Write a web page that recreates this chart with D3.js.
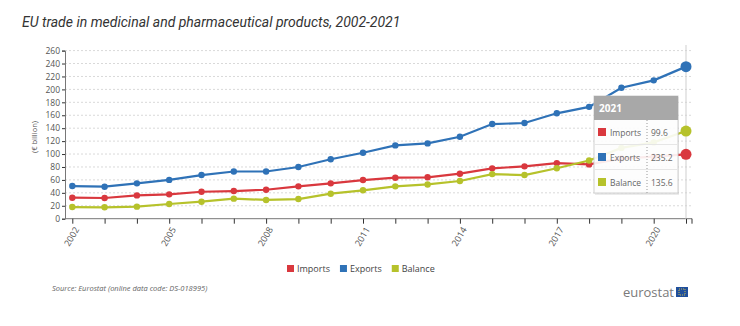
<!DOCTYPE html>
<meta charset="utf-8">
<script src="https://d3js.org/d3.v7.min.js"></script>
<style>
  body { margin: 0; background: #fff; }
  text { font-family: "Open Sans", "Liberation Sans", sans-serif; }
</style>
<div id="chart"></div>
<script>

// data (EUR billion)
var years = [2002, 2003, 2004, 2005, 2006, 2007, 2008, 2009, 2010, 2011,
             2012, 2013, 2014, 2015, 2016, 2017, 2018, 2019, 2020, 2021];
var imports = [32.5, 32, 36, 37.7, 41.7, 42.8, 44.8, 50, 54.7, 59.8,
               63.4, 64, 69.6, 77.9, 81, 86, 84, 93, 96, 99.6];
var exports = [50.5, 49.5, 54.7, 60, 67.5, 73, 73, 80, 92, 102,
               113.4, 116.5, 126.8, 146.4, 148, 163, 173, 202.5, 214, 235.2];
var balance = [18, 17.6, 18.6, 22.7, 26.3, 31, 29, 30.4, 38.7, 43.9,
               50, 53, 58.3, 69, 67.5, 78, 90, 109.5, 118, 135.6];
var yTicks = [0, 20, 40, 60, 80, 100, 120, 140, 160, 180, 200, 220, 240, 260];
var xLabelYears = [2002, 2005, 2008, 2011, 2014, 2017, 2020];

var seriesNames = ["Imports", "Exports", "Balance"];
var seriesColors = ["#d9383e", "#2f72b7", "#b6c22b"];
var seriesValues = [imports, exports, balance];

var W = 740, H = 326;
var svg = d3.select("#chart").append("svg")
  .attr("width", W)
  .attr("height", H);

// scales
var x = d3.scaleLinear().domain([2002, 2021]).range([72.3, 686]);
var y = d3.scaleLinear().domain([0, 260]).range([218.7, 50.6]);
var plotLeft = 65, plotRight = 692;

// title
svg.append("text")
  .attr("x", 22)
  .attr("y", 27)
  .style("font-family", "Roboto, sans-serif")
  .style("font-style", "italic")
  .style("font-size", "14px")
  .style("fill", "#333")
  .text("EU trade in medicinal and pharmaceutical products, 2002-2021");

// gridlines
svg.append("g").selectAll("line")
  .data(yTicks.slice(1))
  .enter().append("line")
    .attr("x1", plotLeft)
    .attr("x2", plotRight)
    .attr("y1", function(d) { return y(d); })
    .attr("y2", function(d) { return y(d); })
    .style("stroke", "#d9d9d9")
    .style("stroke-dasharray", "2,2");

// y axis
var yAxis = svg.append("g")
  .attr("transform", "translate(" + plotLeft + ",0)")
  .call(d3.axisLeft(y).tickValues(yTicks).tickSize(3).tickPadding(2));
yAxis.select(".domain").style("stroke", "#777");
yAxis.selectAll(".tick line").style("stroke", "#333");
yAxis.selectAll(".tick text")
  .style("font-size", "8.5px")
  .style("fill", "#555");

svg.append("text")
  .attr("transform", "translate(37,137) rotate(-90)")
  .attr("text-anchor", "middle")
  .style("font-size", "7.5px")
  .style("fill", "#555")
  .text("(€ billion)");

// x axis
var xAxis = svg.append("g")
  .attr("transform", "translate(0," + y(0) + ")")
  .call(d3.axisBottom(x).tickValues(years).tickSize(5)
    .tickFormat(function(d) { return xLabelYears.indexOf(d) >= 0 ? d : ""; }));
xAxis.select(".domain")
  .attr("d", "M" + plotLeft + ",0H" + plotRight)
  .style("stroke", "#777");
xAxis.append("line")
  .attr("x1", plotRight).attr("x2", plotRight)
  .attr("y1", 0).attr("y2", 5)
  .style("stroke", "#333");
xAxis.selectAll(".tick line").style("stroke", "#333");
xAxis.selectAll(".tick text")
  .attr("text-anchor", "end")
  .attr("transform", "translate(4,9) rotate(-60)")
  .attr("dy", "0.35em")
  .attr("y", 0)
  .attr("x", 0)
  .style("font-size", "9px")
  .style("fill", "#555");

// hover crosshair at 2021
svg.append("line")
  .attr("x1", x(2021)).attr("x2", x(2021))
  .attr("y1", 45).attr("y2", y(0))
  .style("stroke", "#cfcfcf");

// lines and points
var line = d3.line()
  .x(function(d) { return x(d.year); })
  .y(function(d) { return y(d.value); });

seriesValues.forEach(function(vals, i) {
  var pts = years.map(function(yr, j) { return {year: yr, value: vals[j]}; });
  var g = svg.append("g");
  g.append("path")
    .datum(pts)
    .attr("d", line)
    .style("fill", "none")
    .style("stroke", seriesColors[i])
    .style("stroke-width", 2.2);
  g.selectAll("circle")
    .data(pts)
    .enter().append("circle")
      .attr("cx", function(d) { return x(d.year); })
      .attr("cy", function(d) { return y(d.value); })
      .attr("r", function(d) { return d.year === 2021 ? 5.5 : 3.2; })
      .style("fill", seriesColors[i]);
});

// tooltip for 2021
var tip = svg.append("g").attr("transform", "translate(594,96)");
tip.append("rect")
  .attr("x", 1).attr("y", 1)
  .attr("width", 84).attr("height", 98)
  .style("fill", "#000").style("opacity", 0.08);
tip.append("rect")
  .attr("width", 84).attr("height", 97)
  .style("fill", "#fff").style("fill-opacity", 0.9)
  .style("stroke", "#d0d0d0");
tip.append("rect")
  .attr("width", 84).attr("height", 24)
  .style("fill", "#a8a8a8");
tip.append("text")
  .attr("x", 5).attr("y", 16)
  .style("font-size", "10px")
  .style("font-weight", "bold")
  .style("fill", "#fff")
  .text("2021");
tip.append("line")
  .attr("x1", 53).attr("x2", 53)
  .attr("y1", 24).attr("y2", 97)
  .style("stroke", "#999")
  .style("stroke-dasharray", "1,2");
var tipVals = [imports[19], exports[19], balance[19]];
seriesNames.forEach(function(name, i) {
  var ry = 36 + i * 25;
  if (i > 0) {
    tip.append("line")
      .attr("x1", 0).attr("x2", 84)
      .attr("y1", ry - 12.5).attr("y2", ry - 12.5)
      .style("stroke", "#e6e6e6");
  }
  tip.append("rect")
    .attr("x", 4).attr("y", ry - 4)
    .attr("width", 8).attr("height", 8)
    .style("fill", seriesColors[i]);
  tip.append("text")
    .attr("x", 16).attr("y", ry + 3.5)
    .style("font-size", "8.5px")
    .style("fill", "#666")
    .text(name);
  tip.append("text")
    .attr("x", 57).attr("y", ry + 3.5)
    .style("font-size", "8.5px")
    .style("fill", "#666")
    .text(d3.format(".1f")(tipVals[i]));
});

// legend
var legend = svg.append("g").attr("transform", "translate(287,269)");
var lx = 0;
seriesNames.forEach(function(name, i) {
  legend.append("rect")
    .attr("x", lx).attr("y", -4)
    .attr("width", 7).attr("height", 7)
    .style("fill", seriesColors[i]);
  var t = legend.append("text")
    .attr("x", lx + 10).attr("y", 3)
    .style("font-size", "9px")
    .style("fill", "#444")
    .text(name);
  lx += 10 + t.node().getComputedTextLength() + 10;
});

// source
svg.append("text")
  .attr("x", 52).attr("y", 291)
  .style("font-size", "7.5px")
  .style("font-style", "italic")
  .style("fill", "#666")
  .text("Source: Eurostat (online data code: DS-018995)");

// eurostat logo
svg.append("text")
  .attr("x", 674).attr("y", 297)
  .attr("text-anchor", "end")
  .style("font-size", "13px")
  .style("fill", "#7a7a7a")
  .text("eurostat");
svg.append("rect")
  .attr("x", 676).attr("y", 287)
  .attr("width", 12).attr("height", 10)
  .style("fill", "#1f4f9c");
svg.append("rect")
  .attr("x", 679).attr("y", 289)
  .attr("width", 6).attr("height", 6)
  .style("fill", "none")
  .style("stroke", "#f3d03e")
  .style("stroke-width", 0.8)
  .style("stroke-dasharray", "1,1");

</script>
